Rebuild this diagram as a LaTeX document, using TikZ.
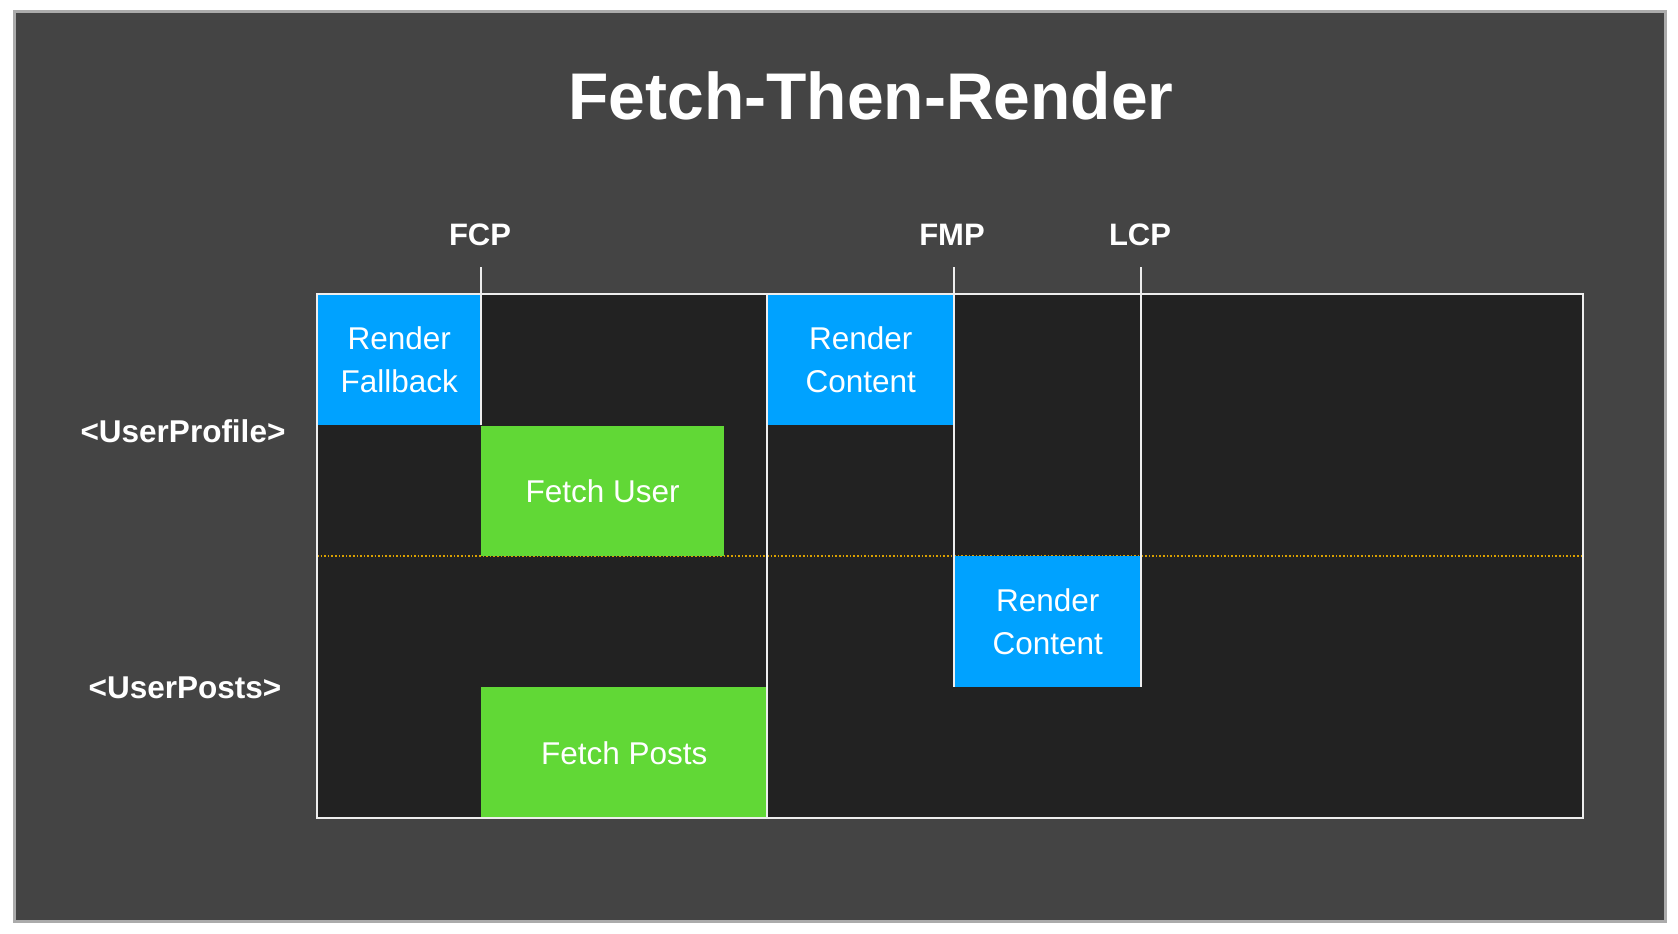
\documentclass[tikz,border=0pt]{standalone}
\usepackage{fontspec}
\setmainfont{Liberation Sans}
\definecolor{pagebg}{HTML}{444444}
\definecolor{framegray}{HTML}{ABABAB}
\definecolor{chartbg}{HTML}{222222}
\definecolor{kblue}{HTML}{00A2FF}
\definecolor{kgreen}{HTML}{61D836}
\definecolor{linewhite}{HTML}{EEEEEE}
\definecolor{divorange}{HTML}{D9A000}
\begin{document}
\begin{tikzpicture}[x=1pt,y=-1pt,
  boxtext/.style={text=white, font=\fontsize{31.5}{43}\selectfont, align=center, inner sep=0pt, anchor=north west, minimum height=131pt, text depth=0pt},
  bluebox/.style={boxtext, fill=kblue},
  greenbox/.style={boxtext, fill=kgreen},
  vline/.style={draw=linewhite, line width=2pt},
  marklabel/.style={text=white, font=\bfseries\fontsize{31}{34}\selectfont},
  rowlabel/.style={text=white, font=\bfseries\fontsize{31.5}{34}\selectfont},
  divider/.style={draw=divorange, line width=1.6pt, dotted}]
\path[use as bounding box] (0,0) rectangle (1678,934);
\fill[white] (0,0) rectangle (1678,934);
\draw[draw=framegray, line width=2.5pt, fill=pagebg] (14.5,11.5) rectangle (1665.5,921.5);
\node[text=white, font=\bfseries\fontsize{66}{70}\selectfont] (title) at (871,96) {Fetch-Then-Render};
% chart area
\node[fill=chartbg, minimum width=1266pt, minimum height=524pt, anchor=north west, inner sep=0pt] (chart) at (317,294) {};
% divider
\coordinate (divL) at (317,556);
\coordinate (divR) at (1583,556);
\draw[divider] (divL) -- (divR);
% boxes
\node[bluebox, minimum width=164pt] (rf) at (317,294) {Render\\Fallback};
\node[greenbox, minimum width=243pt, minimum height=130pt] (fu) at (481,426) {Fetch User};
\node[bluebox, minimum width=187pt] (rc1) at (767,294) {Render\\Content};
\node[bluebox, minimum width=187pt] (rc2) at (954,556) {Render\\Content};
\node[greenbox, minimum width=286pt] (fp) at (481,687) {Fetch Posts};
% milestone labels
\node[marklabel] (fcp) at (480,235) {FCP};
\node[marklabel] (fmp) at (952,235) {FMP};
\node[marklabel] (lcp) at (1140,235) {LCP};
% row labels
\node[rowlabel] (up) at (183,431) {<UserProfile>};
\node[rowlabel] (uposts) at (185,688) {<UserPosts>};
% vertical lines
\coordinate (fcpT) at (481,267);
\coordinate (fmpT) at (954,267);
\coordinate (lcpT) at (1141,267);
\draw[vline] (fcpT) -- (fcpT |- rf.south);
\draw[vline] (rc1.north west) -- (rc1.north west |- chart.south);
\draw[vline] (fmpT) -- (fmpT |- rc2.south);
\draw[vline] (lcpT) -- (lcpT |- rc2.south);
% chart border
\draw[vline] (chart.north west) rectangle (chart.south east);
\end{tikzpicture}
\end{document}
